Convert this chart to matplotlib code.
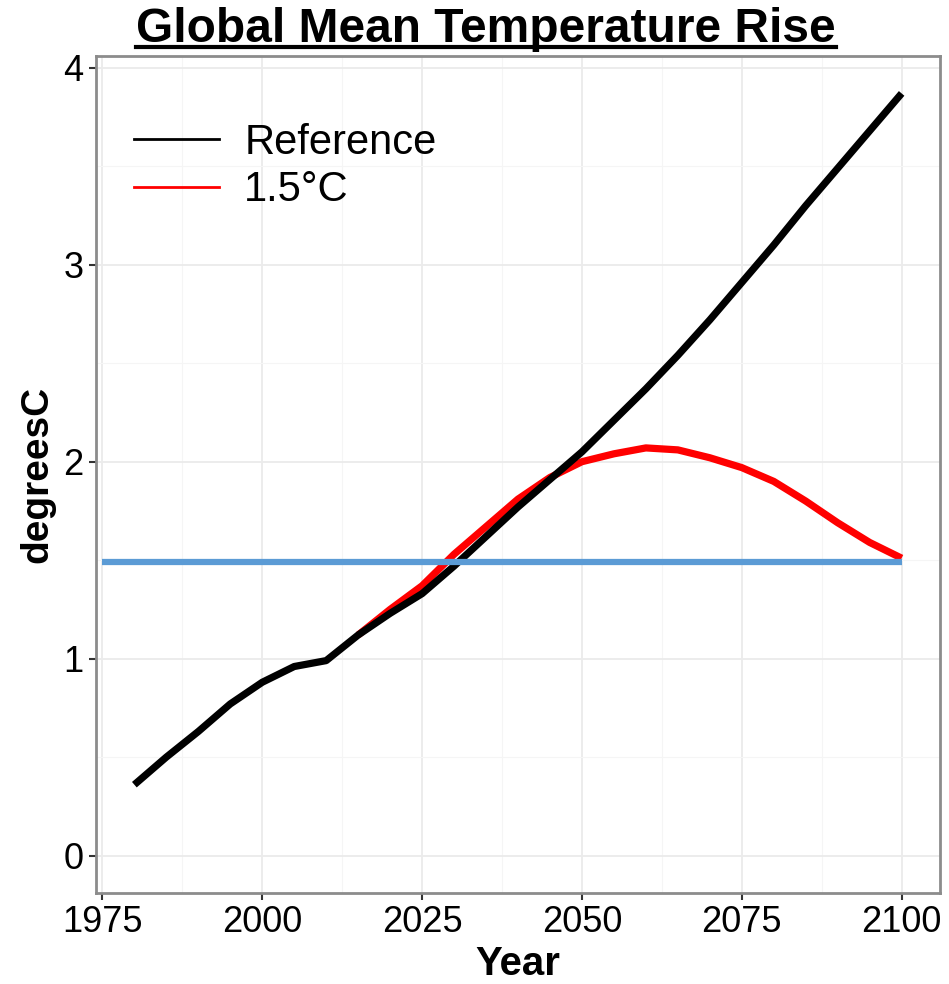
import matplotlib.pyplot as plt
from matplotlib.lines import Line2D

plt.rcParams['font.family'] = ['Liberation Sans', 'DejaVu Sans']

# data
years_ref = [1980, 1985, 1990, 1995, 2000, 2005, 2010, 2015, 2020, 2025, 2030,
             2035, 2040, 2045, 2050, 2055, 2060, 2065, 2070, 2075, 2080, 2085,
             2090, 2095, 2100]
temp_ref = [0.36, 0.50, 0.63, 0.77, 0.88, 0.96, 0.99, 1.12, 1.23, 1.33, 1.47,
            1.62, 1.77, 1.91, 2.05, 2.21, 2.37, 2.54, 2.72, 2.91, 3.10, 3.30,
            3.49, 3.68, 3.87]

years_15 = [2015, 2020, 2025, 2030, 2035, 2040, 2045, 2050, 2055, 2060, 2065,
            2070, 2075, 2080, 2085, 2090, 2095, 2100]
temp_15 = [1.12, 1.25, 1.37, 1.53, 1.67, 1.81, 1.92, 2.00, 2.04, 2.07, 2.06,
           2.02, 1.97, 1.90, 1.80, 1.69, 1.59, 1.51]

target_years = [1975, 2100]
target_temp = [1.49, 1.49]

x_ticks = [1975, 2000, 2025, 2050, 2075, 2100]
y_ticks = [0, 1, 2, 3, 4]

W, H = 949, 984
fig = plt.figure(figsize=(W / 100, H / 100), dpi=100)
ax = fig.add_axes([96 / W, 1 - 893 / H, (940 - 96) / W, (893 - 56) / H])

# lines
ax.plot(years_15, temp_15, color='#FF0000', lw=5.2, solid_capstyle='butt',
        solid_joinstyle='round', zorder=3)
ax.plot(years_ref, temp_ref, color='black', lw=5.2, solid_capstyle='butt',
        solid_joinstyle='round', zorder=4)
ax.plot(target_years, target_temp, color='#5B9BD5', lw=4.5,
        solid_capstyle='butt', zorder=5)

ax.set_xlim(1974, 2106)
ax.set_ylim(-0.19, 4.06)
ax.set_xticks(x_ticks)
ax.set_yticks(y_ticks)
ax.set_xticks([1987.5, 2012.5, 2037.5, 2062.5, 2087.5], minor=True)
ax.set_yticks([0.5, 1.5, 2.5, 3.5], minor=True)
ax.grid(which='major', color='#EBEBEB', lw=1.3, zorder=0)
ax.grid(which='minor', color='#F5F5F5', lw=0.8, zorder=0)
ax.set_axisbelow(True)

ax.tick_params(which='major', length=5, width=1.5, color='#333333',
               labelsize=26, labelcolor='black', pad=4)
ax.tick_params(which='minor', length=0)
for sp in ax.spines.values():
    sp.set_color('#8C8C8C')
    sp.set_linewidth(2)

ax.set_xlabel('Year', fontsize=29, fontweight='bold', labelpad=3)
ax.set_ylabel('degreesC', fontsize=28, fontweight='bold', labelpad=6)

handles = [Line2D([], [], color='black', lw=2),
           Line2D([], [], color='#FF0000', lw=2)]
ax.legend(handles, ['Reference', '1.5°C'], loc='upper left', frameon=False,
          fontsize=30, handlelength=2.05, handletextpad=0.6, labelspacing=0.18,
          bbox_to_anchor=(0.025, 0.94), borderaxespad=0)

# underlined title
title = fig.text(486 / W, 1 - 42 / H, 'Global Mean Temperature Rise',
                 fontsize=34.5, fontweight='bold', ha='center', va='baseline')
fig.canvas.draw()
bb = title.get_window_extent()
uy = (H - 47) / H
fig.add_artist(Line2D([bb.x0 / W, bb.x1 / W], [uy, uy], color='black',
                      lw=3, transform=fig.transFigure))

fig.savefig('out.png', dpi=100)
